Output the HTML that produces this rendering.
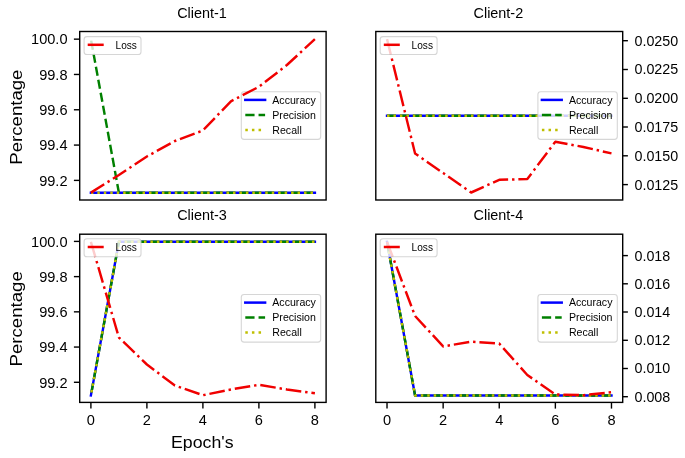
<!DOCTYPE html>
<html><head><meta charset="utf-8"><style>
html,body{margin:0;padding:0;background:#fff;}
svg{display:block;filter:blur(0.35px);}
text{font-family:"Liberation Sans", sans-serif;fill:#000;}
</style></head><body>
<svg width="685" height="458" viewBox="0 0 685 458">
<rect x="0" y="0" width="685" height="458" fill="#fff"/>

<clipPath id="c00"><rect x="79.7" y="31.5" width="246.40000000000003" height="168.5"/></clipPath>
<g clip-path="url(#c00)"><g transform="scale(0.975,1)" fill="none" stroke-linejoin="round">
<polyline points="93.231,192.75 121.949,192.75 150.667,192.75 179.385,192.75 208.103,192.75 236.821,192.75 265.538,192.75 294.256,192.75 322.974,192.75" stroke="#0000ff" stroke-width="2.5" stroke-linecap="square"/>
<polyline points="93.231,39.16 121.949,192.75 150.667,192.75 179.385,192.75 208.103,192.75 236.821,192.75 265.538,192.75 294.256,192.75 322.974,192.75" stroke="#008000" stroke-width="2.5" stroke-dasharray="9.250 4.000" stroke-dashoffset="-1.5"/>
<polyline points="93.231,192.75 121.949,192.75 150.667,192.75 179.385,192.75 208.103,192.75 236.821,192.75 265.538,192.75 294.256,192.75 322.974,192.75" stroke="#bfbf00" stroke-width="2.5" stroke-dasharray="2.500 4.125" stroke-dashoffset="0"/>
</g></g>
<rect x="241.30" y="91.80" width="79.4" height="47.6" rx="2.8" fill="#fff" fill-opacity="0.8" stroke="#cccccc" stroke-opacity="0.8" stroke-width="1.1"/>
<line x1="245.30" y1="99.90" x2="265.10" y2="99.90" stroke="#0000ff" stroke-width="2.5" stroke-linecap="square"/>
<text x="272.30" y="103.50" font-size="10.6">Accuracy</text>
<line x1="245.30" y1="114.90" x2="265.10" y2="114.90" stroke="#008000" stroke-width="2.5" stroke-dasharray="9.250 4.000"/>
<text x="272.30" y="118.50" font-size="10.6">Precision</text>
<line x1="245.30" y1="129.90" x2="265.10" y2="129.90" stroke="#bfbf00" stroke-width="2.5" stroke-dasharray="2.500 4.125"/>
<text x="272.30" y="133.50" font-size="10.6">Recall</text>
<g clip-path="url(#c00)"><g transform="scale(0.975,1)" fill="none" stroke-linejoin="round">
<polyline points="93.231,192.60 121.949,175.00 150.667,156.50 179.385,141.00 208.103,130.50 236.821,101.30 265.538,86.80 294.256,65.00 322.974,39.16" stroke="#f00000" stroke-width="2.5" stroke-dasharray="16.000 4.000 2.500 4.000"/>
</g></g>
<rect x="84.10" y="36.60" width="56.9" height="17.9" rx="2.8" fill="#fff" fill-opacity="0.8" stroke="#cccccc" stroke-opacity="0.8" stroke-width="1.1"/>
<line x1="87.70" y1="44.80" x2="103.70" y2="44.80" stroke="#f00000" stroke-width="2.5"/>
<text transform="translate(115.50,48.90) scale(0.955,1)" font-size="10.6">Loss</text>
<rect x="79.7" y="31.5" width="246.40000000000003" height="168.5" fill="none" stroke="#000" stroke-width="1.4"/>
<text transform="translate(202.00,17.9) scale(1.03,1)" font-size="14.0" text-anchor="middle">Client-1</text>
<line x1="73.90" y1="39.15" x2="79.7" y2="39.15" stroke="#000" stroke-width="1.4"/>
<text transform="translate(67.50,44.45) scale(0.96,1)" font-size="15.2" text-anchor="end">100.0</text>
<line x1="73.90" y1="74.46" x2="79.7" y2="74.46" stroke="#000" stroke-width="1.4"/>
<text transform="translate(67.50,79.76) scale(0.96,1)" font-size="15.2" text-anchor="end">99.8</text>
<line x1="73.90" y1="109.77" x2="79.7" y2="109.77" stroke="#000" stroke-width="1.4"/>
<text transform="translate(67.50,115.07) scale(0.96,1)" font-size="15.2" text-anchor="end">99.6</text>
<line x1="73.90" y1="145.08" x2="79.7" y2="145.08" stroke="#000" stroke-width="1.4"/>
<text transform="translate(67.50,150.38) scale(0.96,1)" font-size="15.2" text-anchor="end">99.4</text>
<line x1="73.90" y1="180.39" x2="79.7" y2="180.39" stroke="#000" stroke-width="1.4"/>
<text transform="translate(67.50,185.69) scale(0.96,1)" font-size="15.2" text-anchor="end">99.2</text>
<text transform="translate(21.6,117.15) rotate(-90) scale(1.095,1)" x="0" y="0" font-size="17" text-anchor="middle">Percentage</text>
<clipPath id="c01"><rect x="375.8" y="31.5" width="246.90000000000003" height="168.5"/></clipPath>
<g clip-path="url(#c01)"><g transform="scale(0.975,1)" fill="none" stroke-linejoin="round">
<polyline points="396.946,115.75 425.723,115.75 454.499,115.75 483.275,115.75 512.051,115.75 540.828,115.75 569.604,115.75 598.380,115.75 627.156,115.75" stroke="#0000ff" stroke-width="2.5" stroke-linecap="square"/>
<polyline points="396.946,115.75 425.723,115.75 454.499,115.75 483.275,115.75 512.051,115.75 540.828,115.75 569.604,115.75 598.380,115.75 627.156,115.75" stroke="#008000" stroke-width="2.5" stroke-dasharray="9.250 4.000" stroke-dashoffset="0"/>
<polyline points="396.946,115.75 425.723,115.75 454.499,115.75 483.275,115.75 512.051,115.75 540.828,115.75 569.604,115.75 598.380,115.75 627.156,115.75" stroke="#bfbf00" stroke-width="2.5" stroke-dasharray="2.500 4.125" stroke-dashoffset="0"/>
</g></g>
<rect x="537.90" y="91.80" width="79.4" height="47.6" rx="2.8" fill="#fff" fill-opacity="0.8" stroke="#cccccc" stroke-opacity="0.8" stroke-width="1.1"/>
<line x1="541.90" y1="99.90" x2="561.70" y2="99.90" stroke="#0000ff" stroke-width="2.5" stroke-linecap="square"/>
<text x="568.90" y="103.50" font-size="10.6">Accuracy</text>
<line x1="541.90" y1="114.90" x2="561.70" y2="114.90" stroke="#008000" stroke-width="2.5" stroke-dasharray="9.250 4.000"/>
<text x="568.90" y="118.50" font-size="10.6">Precision</text>
<line x1="541.90" y1="129.90" x2="561.70" y2="129.90" stroke="#bfbf00" stroke-width="2.5" stroke-dasharray="2.500 4.125"/>
<text x="568.90" y="133.50" font-size="10.6">Recall</text>
<g clip-path="url(#c01)"><g transform="scale(0.975,1)" fill="none" stroke-linejoin="round">
<polyline points="396.946,39.16 425.723,153.50 454.499,173.00 483.275,192.50 512.051,179.80 540.828,179.10 569.604,141.70 598.380,147.00 627.156,153.40" stroke="#f00000" stroke-width="2.5" stroke-dasharray="16.000 4.000 2.500 4.000"/>
</g></g>
<rect x="380.20" y="36.60" width="56.9" height="17.9" rx="2.8" fill="#fff" fill-opacity="0.8" stroke="#cccccc" stroke-opacity="0.8" stroke-width="1.1"/>
<line x1="383.80" y1="44.80" x2="399.80" y2="44.80" stroke="#f00000" stroke-width="2.5"/>
<text transform="translate(411.60,48.90) scale(0.955,1)" font-size="10.6">Loss</text>
<rect x="375.8" y="31.5" width="246.90000000000003" height="168.5" fill="none" stroke="#000" stroke-width="1.4"/>
<text transform="translate(498.35,17.9) scale(1.03,1)" font-size="14.0" text-anchor="middle">Client-2</text>
<line x1="622.7" y1="40.70" x2="627.90" y2="40.70" stroke="#000" stroke-width="1.4"/>
<text x="634.50" y="45.60" font-size="14.3">0.0250</text>
<line x1="622.7" y1="69.50" x2="627.90" y2="69.50" stroke="#000" stroke-width="1.4"/>
<text x="634.50" y="74.40" font-size="14.3">0.0225</text>
<line x1="622.7" y1="98.30" x2="627.90" y2="98.30" stroke="#000" stroke-width="1.4"/>
<text x="634.50" y="103.20" font-size="14.3">0.0200</text>
<line x1="622.7" y1="127.00" x2="627.90" y2="127.00" stroke="#000" stroke-width="1.4"/>
<text x="634.50" y="131.90" font-size="14.3">0.0175</text>
<line x1="622.7" y1="155.80" x2="627.90" y2="155.80" stroke="#000" stroke-width="1.4"/>
<text x="634.50" y="160.70" font-size="14.3">0.0150</text>
<line x1="622.7" y1="184.60" x2="627.90" y2="184.60" stroke="#000" stroke-width="1.4"/>
<text x="634.50" y="189.50" font-size="14.3">0.0125</text>
<clipPath id="c10"><rect x="79.7" y="234.2" width="246.40000000000003" height="168.2"/></clipPath>
<g clip-path="url(#c10)"><g transform="scale(0.975,1)" fill="none" stroke-linejoin="round">
<polyline points="93.231,395.40 121.949,241.85 150.667,241.85 179.385,241.85 208.103,241.85 236.821,241.85 265.538,241.85 294.256,241.85 322.974,241.85" stroke="#0000ff" stroke-width="2.5" stroke-linecap="square"/>
<polyline points="93.231,395.40 121.949,241.85 150.667,241.85 179.385,241.85 208.103,241.85 236.821,241.85 265.538,241.85 294.256,241.85 322.974,241.85" stroke="#008000" stroke-width="2.5" stroke-dasharray="9.250 4.000" stroke-dashoffset="-3.08"/>
<polyline points="93.231,395.40 121.949,241.85 150.667,241.85 179.385,241.85 208.103,241.85 236.821,241.85 265.538,241.85 294.256,241.85 322.974,241.85" stroke="#bfbf00" stroke-width="2.5" stroke-dasharray="2.500 4.125" stroke-dashoffset="-3.08"/>
</g></g>
<rect x="241.30" y="294.50" width="79.4" height="47.6" rx="2.8" fill="#fff" fill-opacity="0.8" stroke="#cccccc" stroke-opacity="0.8" stroke-width="1.1"/>
<line x1="245.30" y1="302.60" x2="265.10" y2="302.60" stroke="#0000ff" stroke-width="2.5" stroke-linecap="square"/>
<text x="272.30" y="306.20" font-size="10.6">Accuracy</text>
<line x1="245.30" y1="317.60" x2="265.10" y2="317.60" stroke="#008000" stroke-width="2.5" stroke-dasharray="9.250 4.000"/>
<text x="272.30" y="321.20" font-size="10.6">Precision</text>
<line x1="245.30" y1="332.60" x2="265.10" y2="332.60" stroke="#bfbf00" stroke-width="2.5" stroke-dasharray="2.500 4.125"/>
<text x="272.30" y="336.20" font-size="10.6">Recall</text>
<g clip-path="url(#c10)"><g transform="scale(0.975,1)" fill="none" stroke-linejoin="round">
<polyline points="93.231,241.85 121.949,337.50 150.667,364.50 179.385,385.50 208.103,395.20 236.821,389.50 265.538,384.80 294.256,389.50 322.974,393.20" stroke="#f00000" stroke-width="2.5" stroke-dasharray="16.000 4.000 2.500 4.000"/>
</g></g>
<rect x="84.10" y="238.80" width="56.9" height="17.9" rx="2.8" fill="#fff" fill-opacity="0.8" stroke="#cccccc" stroke-opacity="0.8" stroke-width="1.1"/>
<line x1="87.70" y1="247.00" x2="103.70" y2="247.00" stroke="#f00000" stroke-width="2.5"/>
<text transform="translate(115.50,251.10) scale(0.955,1)" font-size="10.6">Loss</text>
<rect x="79.7" y="234.2" width="246.40000000000003" height="168.2" fill="none" stroke="#000" stroke-width="1.4"/>
<text transform="translate(202.00,219.8) scale(1.03,1)" font-size="14.0" text-anchor="middle">Client-3</text>
<line x1="73.90" y1="241.40" x2="79.7" y2="241.40" stroke="#000" stroke-width="1.4"/>
<text transform="translate(67.50,246.70) scale(0.96,1)" font-size="15.2" text-anchor="end">100.0</text>
<line x1="73.90" y1="276.62" x2="79.7" y2="276.62" stroke="#000" stroke-width="1.4"/>
<text transform="translate(67.50,281.92) scale(0.96,1)" font-size="15.2" text-anchor="end">99.8</text>
<line x1="73.90" y1="311.84" x2="79.7" y2="311.84" stroke="#000" stroke-width="1.4"/>
<text transform="translate(67.50,317.14) scale(0.96,1)" font-size="15.2" text-anchor="end">99.6</text>
<line x1="73.90" y1="347.06" x2="79.7" y2="347.06" stroke="#000" stroke-width="1.4"/>
<text transform="translate(67.50,352.36) scale(0.96,1)" font-size="15.2" text-anchor="end">99.4</text>
<line x1="73.90" y1="382.28" x2="79.7" y2="382.28" stroke="#000" stroke-width="1.4"/>
<text transform="translate(67.50,387.58) scale(0.96,1)" font-size="15.2" text-anchor="end">99.2</text>
<text transform="translate(21.6,318.85) rotate(-90) scale(1.095,1)" x="0" y="0" font-size="17" text-anchor="middle">Percentage</text>
<line x1="90.90" y1="402.4" x2="90.90" y2="408.60" stroke="#000" stroke-width="1.4"/>
<text x="90.90" y="424.90" font-size="14.6" text-anchor="middle">0</text>
<line x1="146.90" y1="402.4" x2="146.90" y2="408.60" stroke="#000" stroke-width="1.4"/>
<text x="146.90" y="424.90" font-size="14.6" text-anchor="middle">2</text>
<line x1="202.90" y1="402.4" x2="202.90" y2="408.60" stroke="#000" stroke-width="1.4"/>
<text x="202.90" y="424.90" font-size="14.6" text-anchor="middle">4</text>
<line x1="258.90" y1="402.4" x2="258.90" y2="408.60" stroke="#000" stroke-width="1.4"/>
<text x="258.90" y="424.90" font-size="14.6" text-anchor="middle">6</text>
<line x1="314.90" y1="402.4" x2="314.90" y2="408.60" stroke="#000" stroke-width="1.4"/>
<text x="314.90" y="424.90" font-size="14.6" text-anchor="middle">8</text>
<text transform="translate(202.30,448) scale(1.043,1)" font-size="17" text-anchor="middle">Epoch's</text>
<clipPath id="c11"><rect x="375.8" y="234.2" width="246.90000000000003" height="168.2"/></clipPath>
<g clip-path="url(#c11)"><g transform="scale(0.975,1)" fill="none" stroke-linejoin="round">
<polyline points="396.946,241.85 425.723,395.40 454.499,395.40 483.275,395.40 512.051,395.40 540.828,395.40 569.604,395.40 598.380,395.40 627.156,395.40" stroke="#0000ff" stroke-width="2.5" stroke-linecap="square"/>
<polyline points="396.946,241.85 425.723,395.40 454.499,395.40 483.275,395.40 512.051,395.40 540.828,395.40 569.604,395.40 598.380,395.40 627.156,395.40" stroke="#008000" stroke-width="2.5" stroke-dasharray="9.250 4.000" stroke-dashoffset="-3.08"/>
<polyline points="396.946,241.85 425.723,395.40 454.499,395.40 483.275,395.40 512.051,395.40 540.828,395.40 569.604,395.40 598.380,395.40 627.156,395.40" stroke="#bfbf00" stroke-width="2.5" stroke-dasharray="2.500 4.125" stroke-dashoffset="-3.08"/>
</g></g>
<rect x="537.90" y="294.50" width="79.4" height="47.6" rx="2.8" fill="#fff" fill-opacity="0.8" stroke="#cccccc" stroke-opacity="0.8" stroke-width="1.1"/>
<line x1="541.90" y1="302.60" x2="561.70" y2="302.60" stroke="#0000ff" stroke-width="2.5" stroke-linecap="square"/>
<text x="568.90" y="306.20" font-size="10.6">Accuracy</text>
<line x1="541.90" y1="317.60" x2="561.70" y2="317.60" stroke="#008000" stroke-width="2.5" stroke-dasharray="9.250 4.000"/>
<text x="568.90" y="321.20" font-size="10.6">Precision</text>
<line x1="541.90" y1="332.60" x2="561.70" y2="332.60" stroke="#bfbf00" stroke-width="2.5" stroke-dasharray="2.500 4.125"/>
<text x="568.90" y="336.20" font-size="10.6">Recall</text>
<g clip-path="url(#c11)"><g transform="scale(0.975,1)" fill="none" stroke-linejoin="round">
<polyline points="396.946,241.85 425.723,316.00 454.499,346.40 483.275,341.70 512.051,343.60 540.828,375.00 569.604,394.50 598.380,395.20 627.156,392.30" stroke="#f00000" stroke-width="2.5" stroke-dasharray="16.000 4.000 2.500 4.000"/>
</g></g>
<rect x="380.20" y="238.80" width="56.9" height="17.9" rx="2.8" fill="#fff" fill-opacity="0.8" stroke="#cccccc" stroke-opacity="0.8" stroke-width="1.1"/>
<line x1="383.80" y1="247.00" x2="399.80" y2="247.00" stroke="#f00000" stroke-width="2.5"/>
<text transform="translate(411.60,251.10) scale(0.955,1)" font-size="10.6">Loss</text>
<rect x="375.8" y="234.2" width="246.90000000000003" height="168.2" fill="none" stroke="#000" stroke-width="1.4"/>
<text transform="translate(498.35,219.8) scale(1.03,1)" font-size="14.0" text-anchor="middle">Client-4</text>
<line x1="622.7" y1="255.60" x2="627.90" y2="255.60" stroke="#000" stroke-width="1.4"/>
<text x="634.50" y="260.50" font-size="14.3">0.018</text>
<line x1="622.7" y1="283.80" x2="627.90" y2="283.80" stroke="#000" stroke-width="1.4"/>
<text x="634.50" y="288.70" font-size="14.3">0.016</text>
<line x1="622.7" y1="312.00" x2="627.90" y2="312.00" stroke="#000" stroke-width="1.4"/>
<text x="634.50" y="316.90" font-size="14.3">0.014</text>
<line x1="622.7" y1="340.30" x2="627.90" y2="340.30" stroke="#000" stroke-width="1.4"/>
<text x="634.50" y="345.20" font-size="14.3">0.012</text>
<line x1="622.7" y1="368.50" x2="627.90" y2="368.50" stroke="#000" stroke-width="1.4"/>
<text x="634.50" y="373.40" font-size="14.3">0.010</text>
<line x1="622.7" y1="396.70" x2="627.90" y2="396.70" stroke="#000" stroke-width="1.4"/>
<text x="634.50" y="401.60" font-size="14.3">0.008</text>
<line x1="387.02" y1="402.4" x2="387.02" y2="408.60" stroke="#000" stroke-width="1.4"/>
<text x="387.02" y="424.90" font-size="14.6" text-anchor="middle">0</text>
<line x1="443.14" y1="402.4" x2="443.14" y2="408.60" stroke="#000" stroke-width="1.4"/>
<text x="443.14" y="424.90" font-size="14.6" text-anchor="middle">2</text>
<line x1="499.25" y1="402.4" x2="499.25" y2="408.60" stroke="#000" stroke-width="1.4"/>
<text x="499.25" y="424.90" font-size="14.6" text-anchor="middle">4</text>
<line x1="555.36" y1="402.4" x2="555.36" y2="408.60" stroke="#000" stroke-width="1.4"/>
<text x="555.36" y="424.90" font-size="14.6" text-anchor="middle">6</text>
<line x1="611.48" y1="402.4" x2="611.48" y2="408.60" stroke="#000" stroke-width="1.4"/>
<text x="611.48" y="424.90" font-size="14.6" text-anchor="middle">8</text>
</svg>
</body></html>
